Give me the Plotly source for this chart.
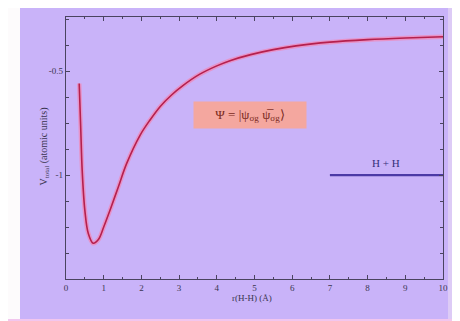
import plotly.graph_objects as go

# Potential energy curve
r_vals = [0.35, 0.39, 0.43, 0.50, 0.59, 0.72, 0.86, 1.00, 1.17, 1.39, 1.61, 1.96,
          2.23, 2.50, 2.80, 3.10, 3.55, 4.00, 4.35, 4.90, 5.50, 6.10, 7.00, 8.00, 9.00, 10.0]
v_vals = [-0.56, -0.77, -0.98, -1.17, -1.28, -1.328, -1.31, -1.25, -1.168, -1.056, -0.944, -0.81,
          -0.735, -0.67, -0.615, -0.57, -0.515, -0.475, -0.45, -0.421, -0.397, -0.379, -0.361,
          -0.349, -0.341, -0.335]

# Dissociation limit H + H
limit_r = [7, 10]
limit_v = [-1, -1]

x_tick_vals = [0, 1, 2, 3, 4, 5, 6, 7, 8, 9, 10]
x_tick_text = ["0", "1", "2", "3", "4", "5", "6", "7", "8", "9", "10"]
y_tick_vals = [-1.0, -0.5]
y_tick_text = ["-1", "-0.5"]
y_minor_vals = [-1.5, -1.375, -1.25, -1.125, -0.875, -0.75, -0.625, -0.375, -0.25]

PURPLE = "#c9b3f9"
AXIS = "#4a4460"
SERIF = "Liberation Serif"

# page body has an 8px offset; figure sized to fill the rest of the window
OFF = 8
W, H = 460 - OFF, 321 - OFF
L, R, T, B = 66 - OFF, 460 - 443, 17 - OFF, 321 - 279
PW, PH = 443 - 66, 279 - 17


def px(xpix):
    return (xpix - 66) / PW


def py(ypix):
    return (279 - ypix) / PH


fig = go.Figure()
fig.add_trace(go.Scatter(x=r_vals, y=v_vals, mode="lines", line_shape="spline",
                         line=dict(color="rgba(255,120,160,0.55)", width=4.5),
                         hoverinfo="skip", showlegend=False))
fig.add_trace(go.Scatter(x=r_vals, y=v_vals, mode="lines", line_shape="spline",
                         line=dict(color="#b5204e", width=1.6), showlegend=False))
fig.add_trace(go.Scatter(x=limit_r, y=limit_v, mode="lines",
                         line=dict(color="#4b3aa6", width=2.2), showlegend=False))

axis_common = dict(showline=True, linecolor=AXIS, linewidth=1.2, mirror="ticks",
                   ticks="inside", ticklen=4, tickcolor=AXIS, tickwidth=1,
                   showgrid=False, zeroline=False,
                   tickfont=dict(family=SERIF, size=9, color="#3a3550"))

fig.update_xaxes(range=[0, 10], tickvals=x_tick_vals, ticktext=x_tick_text,
                 minor=dict(dtick=0.5, ticks="inside", ticklen=2, tickcolor=AXIS),
                 **axis_common)
fig.update_yaxes(range=[-1.5, -0.24], tickvals=y_tick_vals, ticktext=y_tick_text,
                 minor=dict(tickvals=y_minor_vals, ticks="inside", ticklen=3, tickcolor=AXIS),
                 **axis_common)

shapes = [
    dict(type="rect", xref="paper", yref="paper", x0=px(448), x1=px(470),
         y0=py(330), y1=py(-10), fillcolor="#ddcbf6", line_width=0, layer="below"),
    dict(type="rect", xref="paper", yref="paper", x0=px(-10), x1=px(470),
         y0=py(330), y1=py(319), fillcolor="#f2c6ee", line_width=0, layer="below"),
    dict(type="rect", xref="paper", yref="paper", x0=px(20), x1=px(448),
         y0=py(319), y1=py(5), fillcolor=PURPLE, line_width=0, layer="below"),
]

annotations = [
    dict(text="V<sub>total</sub> (atomic units)", xref="paper", yref="paper",
         x=px(35), y=py(147), textangle=-90, showarrow=False,
         font=dict(family=SERIF, size=10, color="#3a3550")),
    dict(text="r(H-H) (Å)", xref="paper", yref="paper",
         x=px(252), y=py(305), showarrow=False,
         font=dict(family=SERIF, size=9, color="#3a3550")),
    dict(text="Ψ = |ψ<sub>σg</sub> ψ̅<sub>σg</sub>⟩", x=4.88, y=-0.712, xref="x", yref="y",
         showarrow=False, bgcolor="#f4a79f", width=110, height=24,
         font=dict(family=SERIF, size=13, color="#7a2a22")),
    dict(text="H + H", x=8.49, y=-0.942, xref="x", yref="y", showarrow=False,
         font=dict(family=SERIF, size=11, color="#34307a")),
]

fig.update_layout(width=W, height=H, margin=dict(l=L, r=R, t=T, b=B),
                  paper_bgcolor="#fdfbfc", plot_bgcolor=PURPLE,
                  shapes=shapes, annotations=annotations, showlegend=False)

fig.write_html("out.html")
